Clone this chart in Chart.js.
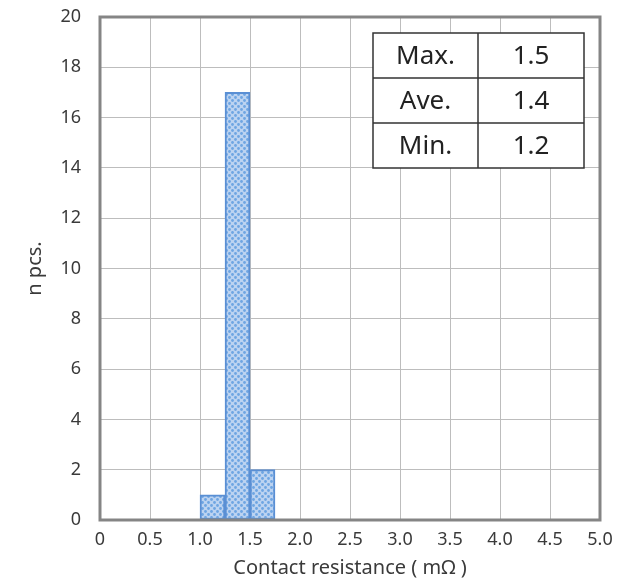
<!DOCTYPE html>
<html>
<head>
<meta charset="utf-8">
<script src="https://cdn.jsdelivr.net/npm/chart.js@4"></script>
<style>
  html, body { margin: 0; padding: 0; background: #fff; }
  #wrap { width: 627px; height: 586px; position: relative; }
</style>
</head>
<body>
<div id="wrap"><canvas id="histChart" width="627" height="586"></canvas></div>
<script>
// Histogram bins (centre of each 0.25 mΩ bin) and their counts
const binCenters = [1.125, 1.375, 1.625];
const binCounts = [1, 17, 2];

// Summary table
const statLabels = ['Max.', 'Ave.', 'Min.'];
const statValues = ['1.5', '1.4', '1.2'];

const FONT = '"Noto Sans", "DejaVu Sans", sans-serif';

// Dotted fill for the bars
function makeDotPattern() {
    const c = document.createElement('canvas');
    c.width = 6;
    c.height = 6;
    const g = c.getContext('2d');
    g.fillStyle = '#bcd3f1';
    g.fillRect(0, 0, 6, 6);
    g.fillStyle = '#6ea5e2';
    [[1.5, 1.5], [4.5, 4.5]].forEach(([x, y]) => {
        g.beginPath();
        g.arc(x, y, 1.4, 0, Math.PI * 2);
        g.fill();
    });
    return g.createPattern(c, 'repeat');
}

// Frame around the plot area
const framePlugin = {
    id: 'frame',
    afterDatasetsDraw(chart) {
        const { ctx, chartArea: a } = chart;
        ctx.save();
        ctx.strokeStyle = '#858585';
        ctx.lineWidth = 3;
        ctx.strokeRect(a.left, a.top, a.right - a.left, a.bottom - a.top);
        ctx.restore();
    }
};

// Max / Ave / Min box in the upper right
const statsTablePlugin = {
    id: 'statsTable',
    afterDraw(chart) {
        const { ctx, chartArea: a } = chart;
        const colW = [105, 106];
        const rowH = 45;
        const x0 = a.right - 16 - colW[0] - colW[1];
        const y0 = a.top + 16;
        const w = colW[0] + colW[1];
        const h = rowH * statLabels.length;
        ctx.save();
        ctx.fillStyle = '#ffffff';
        ctx.fillRect(x0, y0, w, h);
        ctx.strokeStyle = '#333333';
        ctx.lineWidth = 1.5;
        ctx.strokeRect(x0, y0, w, h);
        ctx.beginPath();
        ctx.moveTo(x0 + colW[0], y0);
        ctx.lineTo(x0 + colW[0], y0 + h);
        for (let i = 1; i < statLabels.length; i++) {
            ctx.moveTo(x0, y0 + rowH * i);
            ctx.lineTo(x0 + w, y0 + rowH * i);
        }
        ctx.stroke();
        ctx.fillStyle = '#222222';
        ctx.font = '26px ' + FONT;
        ctx.textAlign = 'center';
        ctx.textBaseline = 'middle';
        statLabels.forEach((lbl, i) => {
            const cy = y0 + rowH * i + rowH / 2 + 1;
            ctx.fillText(lbl, x0 + colW[0] / 2, cy);
            ctx.fillText(statValues[i], x0 + colW[0] + colW[1] / 2, cy);
        });
        ctx.restore();
    }
};

const ctx = document.getElementById('histChart').getContext('2d');

new Chart(ctx, {
    type: 'bar',
    data: {
        datasets: [{
            data: binCenters.map((x, i) => ({ x, y: binCounts[i] })),
            backgroundColor: makeDotPattern(),
            borderColor: '#5a8fd4',
            borderWidth: 2,
            borderSkipped: false,
            categoryPercentage: 1,
            barPercentage: 1
        }]
    },
    options: {
        responsive: false,
        animation: false,
        layout: { padding: { left: 23, right: 27, top: 17, bottom: 6 } },
        plugins: {
            legend: { display: false },
            tooltip: { enabled: false }
        },
        scales: {
            x: {
                type: 'linear',
                min: 0,
                max: 5,
                offset: false,
                grid: { offset: false, color: '#bdbdbd', lineWidth: 1, drawTicks: false },
                border: { display: false },
                ticks: {
                    stepSize: 0.5,
                    padding: 9,
                    color: '#3a3a3a',
                    font: { family: FONT, size: 18 },
                    callback: v => (v === 0 ? '0' : v.toFixed(1))
                },
                title: {
                    display: true,
                    text: 'Contact resistance ( mΩ )',
                    color: '#3a3a3a',
                    font: { family: FONT, size: 20 },
                    padding: 0
                },
                afterFit: s => { s.height = 60; }
            },
            y: {
                min: 0,
                max: 20,
                grid: { color: '#bdbdbd', lineWidth: 1, drawTicks: false },
                border: { display: false },
                ticks: {
                    stepSize: 2,
                    padding: 19,
                    color: '#3a3a3a',
                    font: { family: FONT, size: 18 }
                },
                title: {
                    display: true,
                    text: 'n pcs.',
                    color: '#3a3a3a',
                    font: { family: FONT, size: 20 },
                    padding: 0
                },
                afterFit: s => {
                    s.width = 77;
                    // label padding would otherwise push the plot area down
                    s.paddingTop = 0;
                    s.paddingBottom = 0;
                }
            }
        }
    },
    plugins: [framePlugin, statsTablePlugin]
});
</script>
</body>
</html>
